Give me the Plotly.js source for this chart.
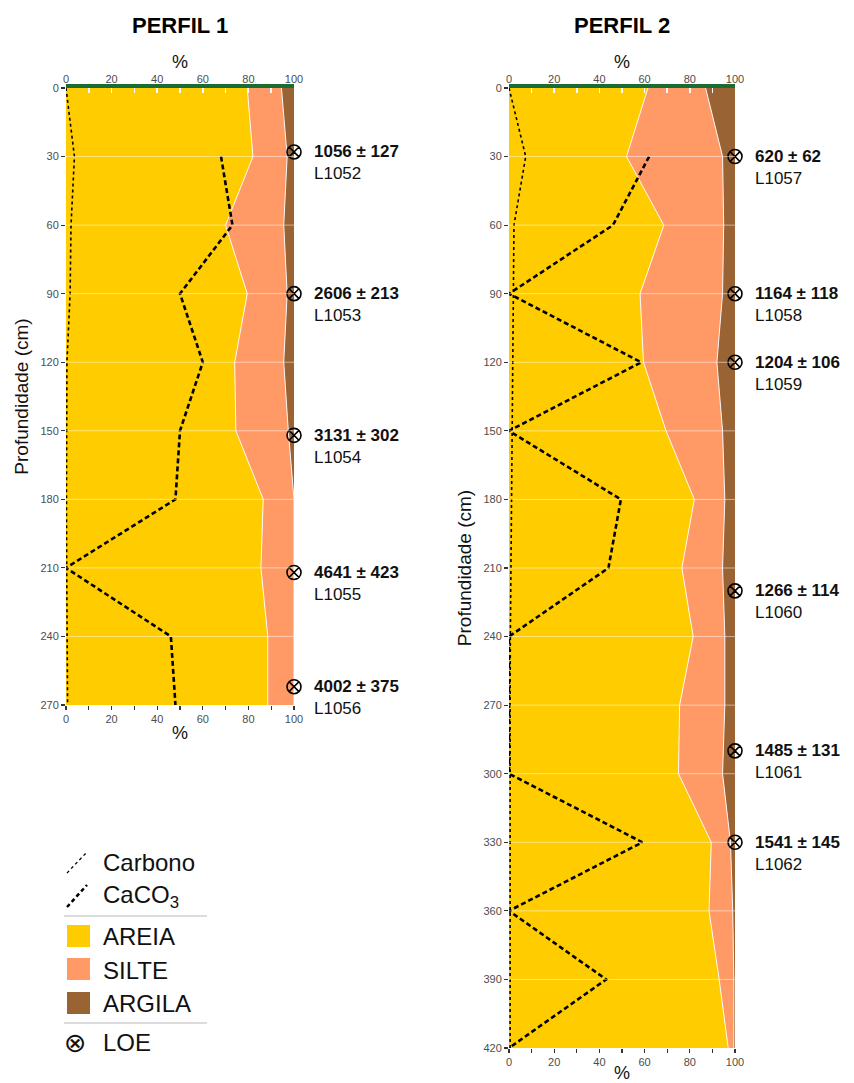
<!DOCTYPE html>
<html>
<head>
<meta charset="utf-8">
<script src="https://cdn.plot.ly/plotly-3.0.1.min.js"></script>
<style>html,body{margin:0;padding:0;background:#fff;}#chart{width:854px;height:1083px;}</style>
</head>
<body>
<div id="chart"></div>
<script>
// ---------- DATA ----------
// PERFIL 1
const depths1 = [0, 30, 60, 90, 120, 150, 180, 210, 240, 270];
const areia1  = [79.5, 82, 70, 79.5, 74, 74.5, 86.5, 85.5, 88.5, 88.5];
const silte1  = [15, 15, 25.5, 17.5, 21.5, 23, 13.5, 14.5, 11.5, 11.5];
const argila1 = [5.5, 3, 4.5, 3, 4.5, 2.5, 0, 0, 0, 0];
const carbono1 = [0, 3.7, 2.2, 1.8, 0.4, 0.2, 0.2, 0.3, 0.5, 0.7];
const caco3Depths1 = [30, 60, 90, 120, 150, 180, 210, 240, 270];
const caco3_1 = [68, 73, 50, 60, 50, 48, 0, 46, 48];
const loeDepths1 = [28, 90, 152, 212, 262];
const loeAges1 = ['1056 ± 127', '2606 ± 213', '3131 ± 302', '4641 ± 423', '4002 ± 375'];
const loeLabs1 = ['L1052', 'L1053', 'L1054', 'L1055', 'L1056'];

// PERFIL 2
const depths2 = [0, 30, 60, 90, 120, 150, 180, 210, 240, 270, 300, 330, 360, 390, 420];
const areia2  = [61.5, 52, 68.5, 58, 59.5, 69.5, 82, 76.5, 81.5, 75.5, 75, 89.5, 88.5, 93, 97];
const silte2  = [25.5, 42.5, 26.5, 36.5, 32.5, 25, 13.5, 18, 14, 20, 19.5, 8.5, 10.5, 6.5, 2.5];
const argila2 = [13, 5.5, 5, 5.5, 8, 5.5, 4.5, 5.5, 4.5, 4.5, 5.5, 2, 1, 0.5, 0.5];
const carbono2 = [0, 7.4, 2.2, 1.9, 1.5, 1.2, 1.0, 0.9, 0.6, 0.5, 0.5, 0.5, 0.5, 0.5, 0.5];
const caco3Depths2 = [30, 60, 90, 120, 150, 180, 210, 240, 270, 300, 330, 360, 390, 420];
const caco3_2 = [62, 46, 0, 58.5, 0, 49.5, 44, 0, 0, 0, 59, 0, 43, 0];
const loeDepths2 = [30, 90, 120, 220, 290, 330];
const loeAges2 = ['620 ± 62', '1164 ± 118', '1204 ± 106', '1266 ± 114', '1485 ± 131', '1541 ± 145'];
const loeLabs2 = ['L1057', 'L1058', 'L1059', 'L1060', 'L1061', 'L1062'];

const titles = ['PERFIL 1', 'PERFIL 2'];
const yTitle = 'Profundidade (cm)';
const legendLabels = ['Carbono', 'CaCO<sub>3</sub>', 'AREIA', 'SILTE', 'ARGILA', 'LOE'];

// ---------- STYLE ----------
const C_AREIA = '#FFCC00', C_SILTE = '#FF9966', C_ARGILA = '#9A6334', C_GREEN = '#1b6b35';
const FONT = 'Liberation Sans, Arial, sans-serif';
const W = 854, H = 1083;
const px = x => x / W, py = y => 1 - y / H;

function cum(a, b) { return a.map((v, i) => v + b[i]); }

function profileTraces(xa, ya, xTop, d, ar, si, ag, cb, cd, cc, ld) {
  const s1 = cum(ar, si);
  const s2 = cum(s1, ag);
  return [
    {x: ar, y: d, xaxis: xa, yaxis: ya, mode: 'lines', fill: 'tozerox', fillcolor: C_AREIA,
     line: {color: 'rgba(255,255,255,0.9)', width: 1}, hoverinfo: 'skip', showlegend: false},
    {x: s1, y: d, xaxis: xa, yaxis: ya, mode: 'lines', fill: 'tonextx', fillcolor: C_SILTE,
     line: {color: 'rgba(255,255,255,0.9)', width: 1}, hoverinfo: 'skip', showlegend: false},
    {x: s2, y: d, xaxis: xa, yaxis: ya, mode: 'lines', fill: 'tonextx', fillcolor: C_ARGILA,
     line: {width: 0}, hoverinfo: 'skip', showlegend: false},
    {x: cb, y: d, xaxis: xa, yaxis: ya, mode: 'lines', line: {color: '#000', width: 1.6, dash: 'dot'}, showlegend: false},
    {x: cc, y: cd, xaxis: xa, yaxis: ya, mode: 'lines', line: {color: '#000', width: 2.6, dash: '5px,3px'}, showlegend: false},
    {x: ld.map(() => 100), y: ld, xaxis: xTop, yaxis: ya, mode: 'markers', cliponaxis: false,
     marker: {symbol: 'circle-x-open', size: 14, color: '#000', line: {width: 1.6, color: '#000'}}, showlegend: false}
  ];
}

const data = [].concat(
  profileTraces('x', 'y', 'x3', depths1, areia1, silte1, argila1, carbono1, caco3Depths1, caco3_1, loeDepths1),
  profileTraces('x2', 'y2', 'x4', depths2, areia2, silte2, argila2, carbono2, caco3Depths2, caco3_2, loeDepths2)
);

const tickFont = {family: FONT, size: 11, color: '#4d4d4d'};
function bottomAxis(domain, anchor, tstand) {
  return {domain: domain, anchor: anchor, range: [0, 100], side: 'bottom', dtick: 20, tick0: 0,
    ticks: 'outside', ticklen: 4, tickwidth: 1.2, tickcolor: '#333', tickfont: tickFont,
    minor: {dtick: 10, ticks: 'outside', ticklen: 4, tickwidth: 1.2, tickcolor: '#333'},
    showgrid: false, zeroline: false, showline: false, fixedrange: true,
    title: {text: '%', font: {family: FONT, size: 18, color: '#111'}, standoff: tstand}};
}
function topAxis(over, anchor) {
  return {overlaying: over, anchor: anchor, side: 'top', range: [0, 100], dtick: 20, tick0: 0,
    ticks: 'inside', ticklen: 5, tickwidth: 1.5, tickcolor: '#ffffff', tickfont: tickFont,
    minor: {dtick: 10, ticks: 'inside', ticklen: 5, tickwidth: 1.5, tickcolor: '#ffffff'},
    ticklabelstandoff: -3,
    showline: true, linecolor: C_GREEN, linewidth: 4,
    showgrid: false, zeroline: false, layer: 'above traces', fixedrange: true,
    title: {text: '%', font: {family: FONT, size: 18, color: '#111'}, standoff: 0}};
}
function depthAxis(domain, anchor, maxD, ticks) {
  return {domain: domain, anchor: anchor, range: [maxD, 0], tickmode: 'array', tickvals: ticks,
    ticks: 'outside', ticklen: 4, tickwidth: 1.2, tickcolor: '#333', tickfont: tickFont,
    showgrid: false, zeroline: false, showline: false, fixedrange: true,
    title: {text: yTitle, font: {family: FONT, size: 19, color: '#111'}, standoff: 6}};
}

const shapes = [];
function gridShapes(xa, ya, d) {
  d.slice(1, -1).forEach(v => shapes.push({type: 'line', xref: xa + ' domain', yref: ya, x0: 0, x1: 1, y0: v, y1: v,
    layer: 'above', line: {color: 'rgba(255,255,255,0.5)', width: 1}}));
}
gridShapes('x', 'y', depths1);
gridShapes('x2', 'y2', depths2);

const annotations = [];
function loeLabels(xa, ya, ld, ages, labs) {
  ld.forEach((v, i) => {
    annotations.push({xref: xa, yref: ya, x: 100, y: v, xanchor: 'left', yanchor: 'middle', xshift: 18,
      showarrow: false, text: '<b>' + ages[i] + '</b>', font: {family: FONT, size: 17, color: '#111'}});
    annotations.push({xref: xa, yref: ya, x: 100, y: v, xanchor: 'left', yanchor: 'middle', xshift: 18, yshift: -22,
      showarrow: false, text: labs[i], font: {family: FONT, size: 17, color: '#111'}});
  });
}
loeLabels('x', 'y', loeDepths1, loeAges1, loeLabs1);
loeLabels('x2', 'y2', loeDepths2, loeAges2, loeLabs2);

// Panel titles
[[titles[0], 180], [titles[1], 622]].forEach(t => annotations.push({xref: 'paper', yref: 'paper', x: px(t[1]), y: py(26),
  xanchor: 'center', yanchor: 'middle', showarrow: false, text: '<b>' + t[0] + '</b>',
  font: {family: FONT, size: 22, color: '#000'}}));

// Custom legend
shapes.push({type: 'line', xref: 'paper', yref: 'paper', x0: px(67), y0: py(873), x1: px(87), y1: py(852), line: {color: '#000', width: 1.3, dash: 'dot'}});
shapes.push({type: 'line', xref: 'paper', yref: 'paper', x0: px(67), y0: py(907), x1: px(87), y1: py(885), line: {color: '#000', width: 2.5, dash: '4px,3px'}});
shapes.push({type: 'line', xref: 'paper', yref: 'paper', x0: px(64), y0: py(916), x1: px(207), y1: py(916), line: {color: '#d0d0d0', width: 1.5}});
[[C_AREIA, 925], [C_SILTE, 958], [C_ARGILA, 992]].forEach(s => shapes.push({type: 'rect', xref: 'paper', yref: 'paper',
  x0: px(67), x1: px(90), y0: py(s[1]), y1: py(s[1] + 22), fillcolor: s[0], line: {width: 0}}));
shapes.push({type: 'line', xref: 'paper', yref: 'paper', x0: px(64), y0: py(1023), x1: px(207), y1: py(1023), line: {color: '#d0d0d0', width: 1.5}});
[862, 896, 936, 970, 1003, 1042].forEach((yy, i) => annotations.push({xref: 'paper', yref: 'paper', x: px(101), y: py(yy),
  xanchor: 'left', yanchor: 'middle', showarrow: false, text: legendLabels[i], font: {family: FONT, size: 24, color: '#111'}}));
annotations.push({xref: 'paper', yref: 'paper', x: px(75), y: py(1042), xanchor: 'center', yanchor: 'middle', showarrow: false,
  text: '⊗', font: {family: 'DejaVu Sans', size: 27, color: '#111'}});

const layout = {
  width: W, height: H, margin: {l: 0, r: 0, t: 0, b: 0}, paper_bgcolor: '#fff', plot_bgcolor: '#fff',
  font: {family: FONT}, showlegend: false,
  xaxis: bottomAxis([px(66), px(294)], 'y', 2),
  yaxis: depthAxis([py(705), py(88)], 'x', 270, depths1),
  xaxis2: bottomAxis([px(509), px(735)], 'y2', 6),
  yaxis2: depthAxis([py(1048), py(88)], 'x2', 420, depths2),
  xaxis3: topAxis('x', 'y'),
  xaxis4: topAxis('x2', 'y2'),
  shapes: shapes, annotations: annotations
};

Plotly.newPlot('chart', data, layout, {staticPlot: true, displayModeBar: false});
</script>
</body>
</html>
